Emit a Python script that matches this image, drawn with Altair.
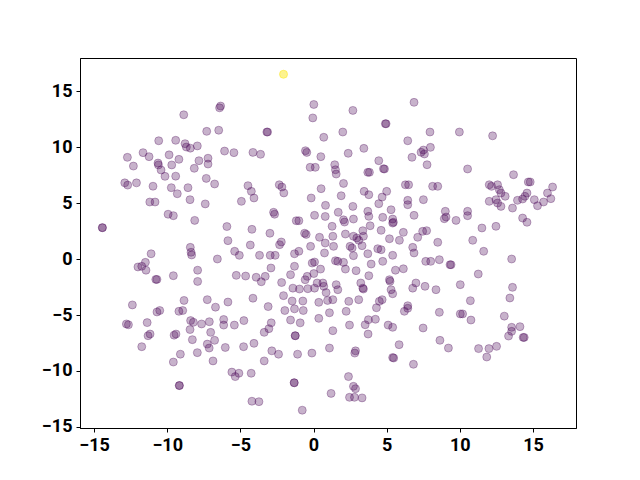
import altair as alt
import pandas as pd

# t-SNE style embedding coordinates
xs = [
    -8.87, -7.3, -10.58, -9.42, -8.78, -8.69, -8.42, -7.94, -12.72, -11.65, -11.24, -12.31, -10.63, -10.6,
    -10.42, -9.87, -9.2, -9.69, -10.15, -9.42, -8.15, -7.83, -7.21, -7.21, -7.33,
    -12.9, -12.7, -12.1, -10.97, -9.72, -9.31, -8.58, -8.44, -7.4, -11.19, -10.83, -9.94, -9.58, -8.12,
    -14.43, -14.43, -8.42, -8.37, -8.33, -11.1, -11.49, -12.0, -11.74, -11.45, -10.78, -10.7, -9.58,
    -7.92, -7.92, -12.38, -8.85,
    -10.7, -10.51, -9.2, -8.94, -12.79, -12.65, -11.37, -8.4, -8.21, -7.65, -11.31, -11.17, -9.53, -9.4,
    -8.44, -8.28, -11.74, -9.1, -7.94, -7.26, -7.13, -9.58, -9.17, -9.17,
    -6.7, -7.12, -6.14, -6.14, -5.41, -4.76, -7.03, -6.76, -6.03, -6.87, -4.78, -4.07, -3.37, -3.05, -2.89,
    -3.1, -1.96, -1.3, -0.7, -1.57, -0.91, 0.36, 1.32, -1.25, -1.25, -2.85, -2.39, -3.37, -1.09, -0.11,
    1.09, -5.58, -5.35, -5.1, -4.26, -1.32, -1.32, 1.2, -4.21, -3.73, -0.77,
    1.09, 2.23, 4.3, 6.21, 6.44, 8.6, 2.46, 3.53, 3.75, 4.23, 3.73, 5.1, 5.41, 7.49, 2.87, 2.82, 5.85,
    5.41, 5.48, 6.83, 8.64, 9.22, 2.39, 2.73, 2.87, 2.46, 2.8, 3.32,
    10.03, 10.19, 10.76, 13.04, 13.54, 13.54, 13.33, 14.11, 14.33, 14.4, 11.28, 11.99, 12.51, 11.84,
    -6.42, -6.35, 0.02, -0.05, -3.19, -3.14, -6.48, 0.7, -6.08, -5.44, -4.14, -3.62, -0.55, -0.46,
    0.5, -0.23, 0.12,
    -6.76, -4.48, -4.25, -4.07, -2.34, -2.16, -2.03, 0.52, -0.16, 0.82, -4.93, -2.73, -2.66, -1.18, -1.0,
    0.07, 0.8, -5.92, -4.21, -2.98, -0.61, -0.5, 0.41, -5.85, -4.32, -2.2, -2.32, -0.2, 0.8, -5.39,
    -5.07, -3.69, -2.96, -2.62, -1.3, -1.0, 0.75, -6.57, -2.91, -1.3, -0.09, 0.07, 0.48, -5.28, -4.64,
    -3.92, -3.57, -3.3, -1.57, -0.57, -0.43, 0.02, -2.18, -1.41, -0.96, -0.39, 0.25, 0.64, 0.7, 0.07,
    0.86, -7.26, -5.85, -4.14, -2.05, -1.46, -0.73, 0.36, 0.96,
    2.05, 6.28, 6.5, 8.14, 8.49, 1.89, 3.46, 3.78, 4.69, 5.0, 4.46, 6.44, 6.44, 7.51, 2.69, 1.69, 2.05,
    2.12, 2.73, 1.27, 3.71, 3.78, 3.87, 3.37, 5.3, 4.73, 5.41, 5.41, 5.46, 6.87, 9.01, 9.06, 8.94, 2.18,
    2.73, 2.96, 3.09, 3.41, 4.62, 5.19, 5.87, 6.14, 7.12, 7.46, 7.73, 8.49, 1.32, 1.37, 2.5, 2.64, 3.32,
    4.39, 4.62, 6.78, 6.87, 2.73, 3.71, 5.41, 7.67, 8.01, 8.6, 9.33, 9.4, 1.5, 1.66, 2.05, 2.18, 2.91,
    3.94, 4.73, 6.14, 5.6, 3.78, 5.19, 5.23, 7.0, 7.62, 3.23, 3.37, 3.41, 1.55, 1.66, 5.3, 5.41, 6.78,
    8.37, 1.32, 2.41, 3.09, 4.5, 4.69, 6.44,
    6.87, 2.69, 4.91, 4.96, 2.0, 7.96, 6.44, 2.37, 3.44, 4.46, 6.73, 7.35, 7.51, 7.58, 7.99, 7.76, 1.45,
    1.5, 1.55, 3.71, 3.82, 4.78, 4.85,
    9.97, 12.24, 10.53, 13.67, 14.68, 14.81,
    12.01, 12.17, 12.58, 12.7, 12.81, 13.1, 12.01, 12.47, 12.58, 12.81, 13.6, 13.94, 14.29, 14.45, 14.59,
    15.09, 15.31, 15.72, 15.99, 16.22, 16.34, 14.29, 14.59, 10.53, 10.53, 9.74, 11.51, 12.47, 10.88,
    11.63, 13.54, 11.26, 10.03, 13.6, 10.72, 13.42,
    -2.05, -2.05,
]
ys = [
    12.88, 11.4, 10.56, 10.6, 10.3, 10.0, 9.9, 10.1, 9.08, 9.5, 9.14, 8.3, 8.57, 8.4,
    7.95, 9.3, 8.9, 8.4, 7.38, 7.4, 8.1, 8.78, 9.0, 8.48, 7.2,
    6.8, 6.6, 6.8, 6.5, 6.37, 5.83, 6.37, 5.3, 4.92, 5.09, 5.09, 4.0, 3.87, 3.45,
    2.8, 2.8, 1.04, 0.6, 0.36, 0.47, -0.3, -0.71, -0.65, -1.0, -1.82, -1.82, -1.49,
    -1.0, -2.0, -4.1, -3.7,
    -4.73, -4.6, -4.67, -4.6, -5.8, -5.87, -5.68, -5.5, -5.65, -5.8, -6.85, -6.7, -6.8, -6.7,
    -6.3, -7.2, -7.83, -8.5, -8.36, -7.6, -7.95, -9.2, -11.3, -11.3,
    -4.3, -5.6, -5.4, -5.9, -5.9, -5.5, -6.55, -7.26, -7.9, -9.1, -7.83, -7.53, -6.55, -6.22, -5.7,
    -4.25, -4.6, -4.45, -4.6, -5.45, -5.7, -5.3, -6.4, -6.85, -6.85, -8.2, -8.5, -9.1, -8.5, -8.4,
    -7.95, -10.1, -10.5, -10.2, -10.2, -11.05, -11.05, -12.0, -12.7, -12.74, -13.5,
    -4.8, -4.67, -4.35, -4.67, -4.4, -4.76, -5.9, -5.87, -5.42, -5.38, -6.7, -5.9, -6.1, -6.16, -8.2, -8.4, -7.65,
    -8.8, -8.84, -9.4, -7.26, -7.95, -10.5, -11.37, -11.58, -12.35, -12.35, -12.4,
    -4.9, -4.9, -5.45, -5.1, -6.1, -6.46, -6.88, -6.04, -7.0, -7.0, -8.0, -8.0, -7.8, -8.75,
    13.5, 13.66, 13.8, 12.6, 11.34, 11.34, 11.5, 10.87, 9.64, 9.5, 9.52, 9.35, 9.67, 9.52,
    9.14, 8.19, 8.19,
    6.7, 6.55, 6.04, 5.45, 6.63, 6.43, 5.9, 6.28, 5.45, 4.79, 5.15, 4.17, 4.0, 3.42, 3.42,
    3.9, 3.8, 2.9, 2.65, 2.3, 2.3, 2.2, 1.94, 1.64, 1.25, 1.52, 1.28, 1.13, 1.43, 0.69,
    0.33, 0.33, 0.33, 0.33, 0.47, 0.69, 0.54, 0.0, -0.8, -0.65, -0.36, -0.27, -0.9, -1.46, -1.52,
    -1.63, -2.03, -1.55, -1.4, -1.85, -1.55, -1.3, -2.1, -2.6, -2.68, -2.65, -2.14, -2.14, -2.44, -2.6,
    -3.0, -3.63, -3.84, -3.5, -3.27, -3.75, -3.75, -3.87, -3.7,
    6.75, 6.63, 6.63, 6.49, 6.49, 5.65, 6.04, 5.74, 5.53, 6.04, 4.94, 5.24, 4.85, 5.3, 4.7, 4.17, 3.5,
    3.3, 3.57, 2.92, 4.26, 3.81, 2.97, 2.53, 4.4, 3.72, 3.57, 3.21, 3.28, 3.9, 4.26, 3.75, 3.6, 2.23,
    2.03, 1.88, 1.67, 2.03, 2.56, 1.81, 1.67, 2.38, 1.94, 2.47, 2.53, 1.49, 2.03, 1.13, 1.13, 0.98, 1.19,
    0.92, 0.83, 1.04, 0.54, 0.3, 0.47, 0.33, -0.21, -0.21, -0.06, -0.51, -0.51, -0.15, -0.21, -0.3, -0.9, -1.04,
    -0.45, -0.21, -0.87, -1.0, -1.49, -1.85, -1.99, -2.14, -2.44, -2.14, -2.6, -2.68, -2.29, -2.74, -2.74, -3.1, -2.6,
    -2.74, -3.63, -3.78, -3.63, -3.78, -3.63, -4.17,
    13.99, 13.27, 12.08, 12.08, 11.34, 11.34, 10.56, 9.44, 9.88, 8.78, 9.08, 9.53, 9.73, 9.38, 9.97, 8.42, 8.42,
    7.97, 7.59, 7.74, 7.74, 8.06, 8.04,
    11.34, 11.0, 8.04, 7.53, 6.88, 6.88,
    6.63, 6.49, 6.63, 6.19, 5.89, 5.6, 5.15, 5.3, 5.0, 4.7, 4.55, 5.24, 5.36, 5.6, 5.89,
    5.3, 4.76, 5.09, 5.89, 5.39, 6.43, 3.66, 3.28, 4.26, 3.87, 3.45, 2.77, 2.92, 1.67,
    0.69, 0.0, -1.34, -2.29, -2.53, -3.72, -3.48,
    16.5, 16.5,
]
# class value per point (only the last, overlapping pair is the other class)
classes = [0] * (len(xs) - 2) + [1, 1]

x_ticks = [-15, -10, -5, 0, 5, 10, 15]
y_ticks = [-15, -10, -5, 0, 5, 10, 15]

df = pd.DataFrame({"x": xs, "y": ys, "c": classes})

color_scale = alt.Scale(scheme="viridis", domain=[0, 1])
minus_expr = "replace(datum.label, '-', '\u2212')"

chart = (
    alt.Chart(df)
    .mark_point(filled=True, shape="circle", size=64, fillOpacity=0.3,
                strokeOpacity=0.3, strokeWidth=1)
    .encode(
        x=alt.X("x:Q", scale=alt.Scale(domain=[-15.96, 17.94], nice=False, zero=False),
                axis=alt.Axis(values=x_ticks, title=None, grid=False, format="d",
                              labelExpr=minus_expr)),
        y=alt.Y("y:Q", scale=alt.Scale(domain=[-15.09, 17.95], nice=False, zero=False),
                axis=alt.Axis(values=y_ticks, title=None, grid=False, format="d",
                              labelExpr=minus_expr)),
        fill=alt.Fill("c:Q", scale=color_scale, legend=None),
        stroke=alt.Stroke("c:Q", scale=color_scale, legend=None),
        order=alt.Order("c:Q"),
    )
    .properties(width=496, height=370,
                autosize=alt.AutoSizeParams(type="none"),
                padding={"left": 72, "top": 50, "right": 56, "bottom": 44})
    .configure_view(stroke="black", strokeWidth=1)
    .configure_axis(
        labelFont="Roboto", labelFontSize=18, labelFontWeight="bold",
        labelColor="black", tickColor="black", tickSize=4, tickWidth=1,
        domainColor="black", domainWidth=1, labelPadding=4,
    )
)

chart.save("out.html", embed_options={"renderer": "svg", "actions": False})
